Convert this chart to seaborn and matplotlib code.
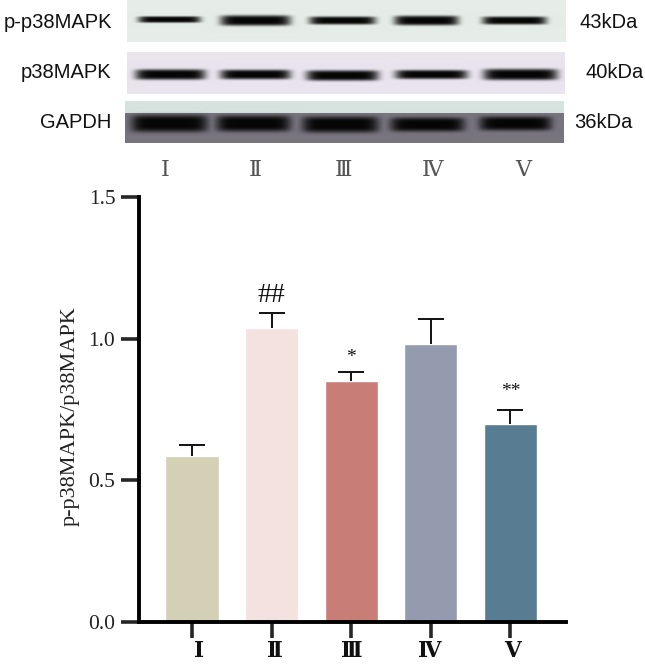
import numpy as np
import pandas as pd
import seaborn as sns
import matplotlib.pyplot as plt
from matplotlib.colors import to_rgb
from matplotlib.transforms import ScaledTranslation

W, H = 645, 666

groups = ['Ⅰ', 'Ⅱ', 'Ⅲ', 'Ⅳ', 'Ⅴ']
ratio = [0.586, 1.038, 0.85, 0.98, 0.70]
ratio_err = [0.038, 0.052, 0.032, 0.088, 0.048]
bar_colors = ['#d4d0b5', '#f3e2e0', '#c97d77', '#959bae', '#587c92']
marks = ['', '##', '*', '', '**']
mark_y = [0, 1.11, 0.905, 0, 0.785]

# blot panels, band values in pixels of the picture
proteins = ['p-p38MAPK', 'p38MAPK', 'GAPDH']
weights = ['43kDa', '40kDa', '36kDa']
panel_boxes = [(127, 566, 0, 42), (127, 565, 52, 94), (125, 564, 101, 143)]
band_x = [[169, 255, 342, 426, 514],
          [170, 255, 342, 431, 520],
          [169, 253, 340, 427, 515]]
band_y = [[19, 20, 20, 20, 20],
          [74, 74, 75, 74, 74],
          [123, 123, 124, 124, 123]]
band_hw = [[31, 35, 33, 32, 32],
           [35, 35, 36, 36, 37],
           [38, 37, 38, 37, 36]]
band_th = [[3.2, 5.2, 4, 4.8, 4],
           [5.2, 4.8, 5.2, 4.5, 5.6],
           [8.5, 8, 8, 7, 7]]
panel_bg = ['#e6ede8', '#e9e4ee', '#78757f']


def blot(box, xs, ys, hws, ths, bg):
    x0, x1, y0, y1 = box
    gx, gy = np.meshgrid(np.arange(x0, x1), np.arange(y0, y1))
    dark = np.zeros(gx.shape)
    for cx, cy, hw, th in zip(xs, ys, hws, ths):
        dark = np.maximum(dark, np.exp(-np.abs((gx - cx) / hw) ** 8) * np.exp(-np.abs((gy - cy) / th) ** 4))
    img = np.ones(gx.shape + (3,)) * np.array(to_rgb(bg))
    if bg == '#78757f':
        # pale strip above the dark part of the GAPDH membrane
        img[gy < 113] = to_rgb('#d6e3de')
    img = img * (1 - dark[..., None]) + 0.02 * dark[..., None]
    return img


sns.set_theme(style='ticks')
plt.rcParams['font.family'] = ['Liberation Serif', 'DejaVu Serif']

fig = plt.figure(figsize=(W / 100, H / 100), dpi=100)

top = fig.add_axes([0, 0, 1, 1])
for i, box in enumerate(panel_boxes):
    img = blot(box, band_x[i], band_y[i], band_hw[i], band_th[i], panel_bg[i])
    top.imshow(img, extent=(box[0], box[1], box[3], box[2]), aspect='auto', interpolation='bilinear')
top.set_xlim(0, W)
top.set_ylim(H, 0)
top.axis('off')

label_right = [112, 111, 111]
label_y = [22, 73, 122]
weight_x = [580, 585, 574]
for i in range(3):
    top.text(label_right[i], label_y[i], proteins[i], ha='right', va='center', fontsize=14.5, family='Liberation Sans', color='#111111')
    top.text(weight_x[i], label_y[i], weights[i], ha='left', va='center', fontsize=14.5, family='Liberation Sans', color='#111111')

lane_x = [165, 255, 344, 433, 523]
for x, g in zip(lane_x, groups):
    top.text(x, 171, g, ha='center', va='center', fontsize=16, color='#555555')

df = pd.DataFrame({'group': groups, 'ratio': ratio})

ax = fig.add_axes([139 / W, 1 - 622 / H, (566 - 139) / W, (622 - 197) / H])
sns.barplot(data=df, x='group', y='ratio', hue='group', palette=bar_colors, legend=False,
            width=0.67, saturation=1, ax=ax)
tops = [v + e for v, e in zip(ratio, ratio_err)]
ax.vlines(range(5), ratio, tops, color='#111111', linewidth=1.4)
ax.plot(range(5), tops, ls='none', marker='_', markersize=19, markeredgewidth=1.4, color='#111111')

for i, m in enumerate(marks):
    if m:
        ax.text(i, mark_y[i], m, ha='center', va='bottom', fontsize=20 if m == '##' else 14, color='#111111')

ax.set_xlim(-0.667, 4.70)
ax.set_ylim(0, 1.5)
ax.set_yticks([0, 0.5, 1.0, 1.5])
ax.set_yticklabels(['0.0', '0.5', '1.0', '1.5'], fontsize=15.5, color='#222222')
ax.set_xlabel('')
ax.set_ylabel('p-p38MAPK/p38MAPK', fontsize=16, color='#222222', labelpad=6, y=0.485)
ax.tick_params(axis='y', length=13, width=2.6, pad=4)
ax.tick_params(axis='x', length=11.5, width=2.6, pad=3, labelsize=15.5, labelcolor='#111111')
label_shift = [7, 3, 1, -1, 2]
for lab, dx in zip(ax.get_xticklabels(), label_shift):
    lab.set_transform(lab.get_transform() + ScaledTranslation(dx / 100, 0, fig.dpi_scale_trans))
    lab.set_fontweight('bold')
for s in ['left', 'bottom']:
    ax.spines[s].set_linewidth(2.8)
    ax.spines[s].set_color('black')
sns.despine(ax=ax)

fig.savefig('out.png', dpi=100)
